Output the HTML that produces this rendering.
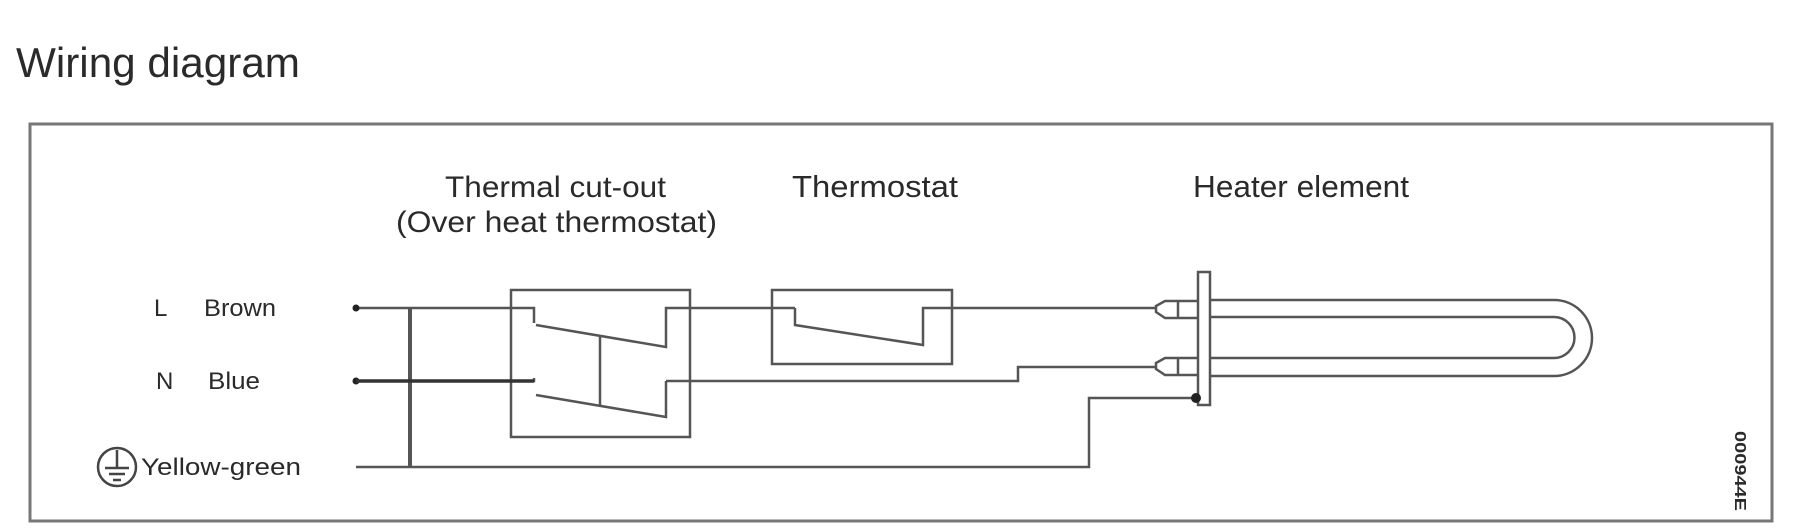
<!DOCTYPE html>
<html><head><meta charset="utf-8"><style>
html,body{margin:0;padding:0;background:#fff;}
svg{display:block;}
text{font-family:"Liberation Sans",Arial,sans-serif;fill:#2a2a2a;}
</style></head><body>
<svg width="1800" height="531" viewBox="0 0 1800 531" xmlns="http://www.w3.org/2000/svg">
<text x="16" y="77" font-size="42" textLength="284" lengthAdjust="spacingAndGlyphs">Wiring diagram</text>
<rect x="30" y="124" width="1742" height="397" fill="none" stroke="#777" stroke-width="3"/>
<text x="445" y="197" font-size="30" textLength="221" lengthAdjust="spacingAndGlyphs">Thermal cut-out</text>
<text x="396" y="232" font-size="30" textLength="321" lengthAdjust="spacingAndGlyphs">(Over heat thermostat)</text>
<text x="792" y="197" font-size="31" textLength="166" lengthAdjust="spacingAndGlyphs">Thermostat</text>
<text x="1193" y="197" font-size="31" textLength="216" lengthAdjust="spacingAndGlyphs">Heater element</text>
<g font-size="24">
<text x="154" y="316">L</text><text x="204" y="316" textLength="72" lengthAdjust="spacingAndGlyphs">Brown</text>
<text x="156" y="389">N</text><text x="208" y="389" textLength="52" lengthAdjust="spacingAndGlyphs">Blue</text>
<text x="141" y="475" textLength="160" lengthAdjust="spacingAndGlyphs">Yellow-green</text>
</g>
<circle cx="117" cy="467" r="19" fill="none" stroke="#444" stroke-width="2.5"/>
<path d="M117 450V468M105 468H129M109 474H125M113 480H121" stroke="#444" stroke-width="2.5"/>
<text transform="translate(1735,431) rotate(90)" font-size="16" font-weight="bold" textLength="80" lengthAdjust="spacingAndGlyphs">000944E</text>
<g stroke="#555" stroke-width="2.5" fill="none">
<path d="M356 308H534V323"/>
<path d="M356 381H534V378"/>
<path d="M356 467H1089V398H1196"/>
<path d="M410 308V467" stroke-width="4"/>
<rect x="511" y="290" width="179" height="147"/>
<path d="M536 325L666 347V308H795"/>
<path d="M536 395L666 417V381"/>
<path d="M600 335V406"/>
<path d="M666 381H1018V367H1155"/>
<rect x="772" y="290" width="180" height="74"/>
<path d="M795 308V325L923 345V308H1155"/>
<rect x="1198" y="272" width="12" height="133"/>
<path d="M1210 300H1554A38 38 0 0 1 1554 376H1210"/>
<path d="M1210 317H1554A20.5 20.5 0 0 1 1554 358H1210"/>
<path d="M1198 301H1165L1156 306V312L1165 318H1198M1178 301V318"/>
<path d="M1198 358H1165L1156 363V369L1165 375H1198M1178 358V375"/>
</g>
<g fill="#222">
<circle cx="356" cy="308" r="3.5"/><circle cx="356" cy="381" r="3.5"/>
<circle cx="1196" cy="398" r="5"/>
</g>
<path d="M356 381H534" stroke="#333" stroke-width="3.5"/>
</svg>
</body></html>
